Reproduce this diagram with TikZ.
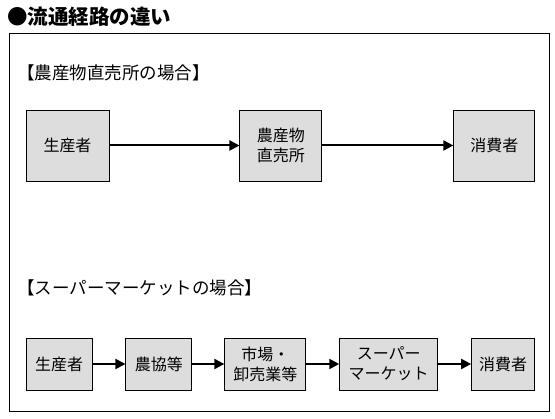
\documentclass[tikz,border=0pt]{standalone}
\usepackage{fontspec}
\setmainfont{Noto Sans CJK JP}
\usetikzlibrary{positioning, arrows.meta}
\definecolor{boxgray}{HTML}{DDDDDD}
\begin{document}
\begin{tikzpicture}[x=1pt, y=-1pt, semithick, node distance=33pt, >={Triangle[length=10pt,width=10pt]}]
\tikzstyle{box}=[draw, fill=boxgray, line width=0.9pt, align=center, inner sep=0pt, font=\fontsize{16}{20}\selectfont]
\tikzstyle{heading}=[anchor=west, inner sep=0pt, font=\fontsize{17.5}{20}\selectfont]
\useasboundingbox (0,0) rectangle (555,419);
\node[anchor=west, inner sep=0pt, font=\bfseries\fontsize{20.5}{24}\selectfont] (title) at (7,17) {●流通経路の違い};
\draw[line width=0.9pt] (9,33) rectangle (549,411);
\node[heading] (case1) at (17,73) {【農産物直売所の場合】};
\node[heading] (case2) at (17,288) {【スーパーマーケットの場合】};

\node[box, minimum width=83pt, minimum height=71pt] (P1) at (67.5,145.5) {生産者};
\node[box, minimum width=82pt, minimum height=71pt, right=130pt of P1] (D1) {農産物\\直売所};
\node[box, minimum width=81pt, minimum height=71pt, right=131pt of D1] (C1) {消費者};

\node[box, minimum width=66pt, minimum height=52pt] (P2) at (59,364) {生産者};
\node[box, minimum width=66pt, minimum height=52pt, right=of P2] (J2) {農協等};
\node[box, minimum width=81pt, minimum height=52pt, right=32pt of J2] (M2) {市場・\\卸売業等};
\node[box, minimum width=98pt, minimum height=52pt, right=of M2] (S2) {スーパー\\マーケット};
\node[box, minimum width=63pt, minimum height=52pt, right=of S2] (C2) {消費者};

\path[->, line width=2pt]
(P1.east) edge		node{}		(D1.west)
(D1.east) edge		node{}		(C1.west)
(P2.east) edge		node{}		(J2.west)
(J2.east) edge		node{}		(M2.west)
(M2.east) edge		node{}		(S2.west)
(S2.east) edge		node{}		(C2.west);
\end{tikzpicture}
\end{document}
